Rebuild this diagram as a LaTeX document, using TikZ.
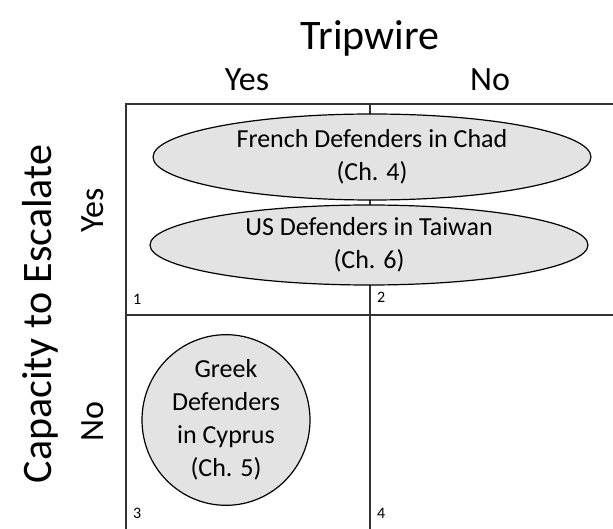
\documentclass[tikz,border=0pt]{standalone}
\usepackage{fontspec}
\setmainfont{Carlito}
\usetikzlibrary{shapes.geometric}
\begin{document}
\begin{tikzpicture}[x=1pt,y=-1pt,
  gridline/.style={draw=black!80,line width=1.3pt},
  oval/.style={ellipse,draw=black,line width=1.2pt,fill=black!11,inner sep=0pt,align=center,
     font=\fontsize{26}{33}\selectfont},
  head/.style={font=\fontsize{42}{50}\selectfont,inner sep=0pt},
  sub/.style={font=\fontsize{34}{40}\selectfont,inner sep=0pt},
  num/.style={font=\fontsize{16}{19}\selectfont,inner sep=0pt,anchor=west}]
\useasboundingbox (0,0) rectangle (613,529);
% grid
\coordinate (tl) at (126,104);
\coordinate (tr) at (613,104);
\coordinate (bl) at (126,529);
\coordinate (tm) at (370,104);
\coordinate (bm) at (370,529);
\coordinate (ml) at (126,315);
\coordinate (mr) at (613,315);
\draw[gridline] (tr) -- (tl) -- (bl);
\draw[gridline] (tm) -- (bm);
\draw[gridline] (ml) -- (mr);
% headers
\node[head] (trip) at (370,38) {Tripwire};
\node[sub] (yesT) at (247,80) {Yes};
\node[sub] (noT) at (490,80) {No};
\node[head,rotate=90] (cap) at (40,314) {Capacity to Escalate};
\node[sub,rotate=90] (yesL) at (93,210) {Yes};
\node[sub,rotate=90] (noL) at (93,422) {No};
% ovals
\node[oval,minimum width=438pt,minimum height=86pt] (fr) at (372,157) {French Defenders in Chad\\(Ch. 4)};
\node[oval,minimum width=438pt,minimum height=80pt] (us) at (369,245) {US Defenders in Taiwan\\(Ch. 6)};
\node[oval,minimum width=168pt,minimum height=162pt] (gr) at (226,420) {Greek\\Defenders\\in Cyprus\\(Ch. 5)};
% numbers
\node[num] (n1) at (133,299) {1};
\node[num] (n2) at (377,297) {2};
\node[num] (n3) at (133,513) {3};
\node[num] (n4) at (377,513) {4};
\end{tikzpicture}
\end{document}
